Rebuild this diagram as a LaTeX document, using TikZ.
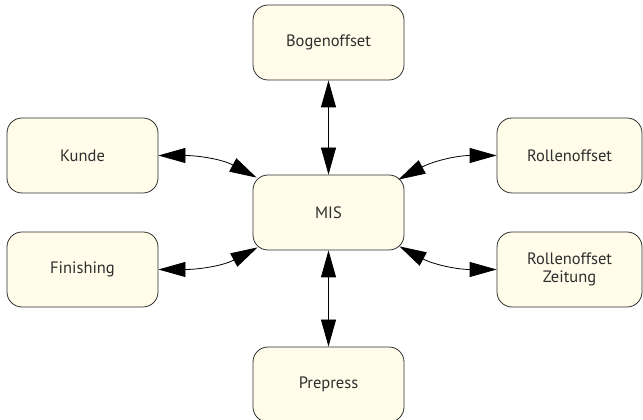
\documentclass[tikz,border=0pt]{standalone}
\usepackage{fontspec}
\setmainfont{PT Sans}
\usetikzlibrary{arrows.meta}

\definecolor{boxfill}{HTML}{FFFCEA}
\definecolor{boxline}{HTML}{2E2E2E}

\tikzset{
  stelle/.style={draw=boxline,fill=boxfill,line width=0.8pt,rounded corners=15pt,
    minimum width=151pt,minimum height=75pt,inner sep=0pt,align=center,
    text=boxline,font=\fontsize{16.5}{18}\selectfont},
  fluss/.style={line width=0.8pt,
    {Triangle[length=27pt,width=15pt]}-{Triangle[length=27pt,width=15pt]}}
}

\begin{document}
\begin{tikzpicture}[x=1pt,y=1pt]
\useasboundingbox (0,0) rectangle (643,420);

\coordinate (cBogen) at (328.5,377.5);
\coordinate (cMis) at (328.5,207.5);
\coordinate (cPrep) at (328.5,35.5);
\coordinate (cKunde) at (82.5,264.5);
\coordinate (cFin) at (82.5,150.5);
\coordinate (cRolle) at (569.5,264.5);
\coordinate (cZeit) at (569.5,150.5);

\node[stelle] (bogen) at (cBogen) {Bogenoffset};
\node[stelle] (mis) at (cMis) {MIS};
\node[stelle] (prep) at (cPrep) {Prepress};
\node[stelle] (kunde) at (cKunde) {Kunde};
\node[stelle] (fin) at (cFin) {Finishing};
\node[stelle,minimum width=145pt] (rolle) at (cRolle) {Rollenoffset};
\node[stelle,minimum width=145pt] (zeit) at (cZeit) {Rollenoffset\\Zeitung};

%gerade Verbindungen
\draw[fluss] (bogen) -- (mis);
\draw[fluss] (mis) -- (prep);

%gebogene Verbindungen an den Ecken von MIS
\coordinate (cNW) at ([shift={(4,-3)}]mis.north west);
\coordinate (cSW) at ([shift={(5,3)}]mis.south west);
\coordinate (cNE) at ([shift={(-6,-5)}]mis.north east);
\coordinate (cSE) at ([shift={(-5,4)}]mis.south east);

\draw[fluss] (kunde.east) to[out=0,in=152] (cNW);
\draw[fluss] (fin.east) to[out=0,in=-152] (cSW);
\draw[fluss] (cNE) to[out=28,in=180] (rolle.west);
\draw[fluss] (cSE) to[out=-28,in=180] (zeit.west);

\end{tikzpicture}
\end{document}
